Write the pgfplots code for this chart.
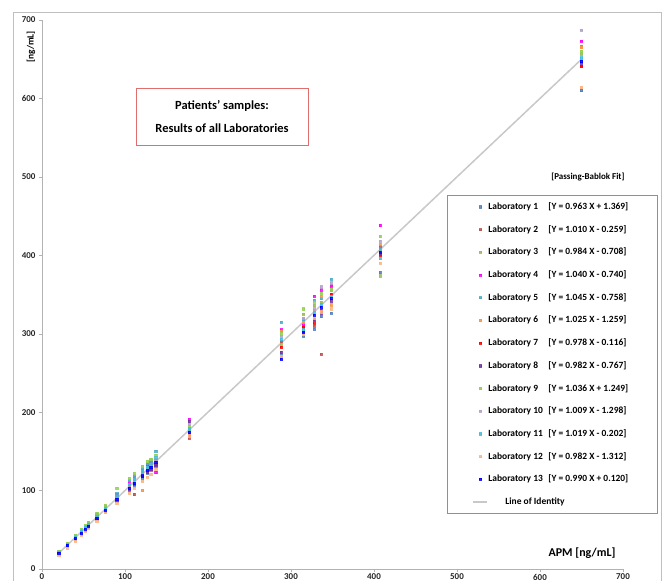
\documentclass[border=0pt]{standalone}
\usepackage{pgfplots}
\pgfplotsset{compat=1.18}
\usepackage{pgfplotstable}
\usepackage{fontspec}
\setmainfont{Carlito}

\definecolor{c1}{RGB}{79,129,189}
\definecolor{c2}{RGB}{192,80,77}
\definecolor{c3}{RGB}{155,187,89}
\definecolor{c4}{RGB}{255,0,255}
\definecolor{c5}{RGB}{75,172,198}
\definecolor{c6}{RGB}{247,150,70}
\definecolor{c7}{RGB}{255,0,0}
\definecolor{c8}{RGB}{112,48,160}
\definecolor{c9}{RGB}{146,208,80}
\definecolor{c10}{RGB}{178,161,199}
\definecolor{c11}{RGB}{60,190,220}
\definecolor{c12}{RGB}{250,180,130}
\definecolor{c13}{RGB}{0,0,255}
\definecolor{boxred}{RGB}{225,110,110}
\definecolor{idline}{RGB}{200,200,200}

\pgfplotstableread{
x   L1  L2  L3  L4  L5  L6  L7  L8  L9  L10 L11 L12 L13
20  21  20  19  21  22  20  20  19  22  19  21  18  20
30  31  30  29  32  32  30  30  29  33  29  31  27  30
40  40  41  39  42  43  40  39  38  43  40  41  36  39
47  46  47  46  49  50  48  46  45  51  47  48  43  46
52  50  52  51  55  54  53  51  50  56  52  53  48  51
56  54  56  55  60  59  57  55  54  59  56  57  52  55
66  64  66  65  69  70  67  65  64  71  66  67  61  65
76  74  76  75  79  80  77  75  74  81  76  77  72  75
90  87  91  88  95  96  92  89  88  103 90  93  84  89
105 100 106 103 110 113 108 104 102 116 105 108 97  103
111 106 95  108 117 119 114 109 108 122 111 114 103 109
121 116 122 118 126 128 100 119 118 131 121 124 112 119
127 122 128 124 133 135 130 125 123 137 127 130 117 126
131 126 132 128 136 138 134 128 127 140 131 133 121 130
137 131 138 134 123 150 140 134 133 145 137 142 127 136
177 172 167 175 191 177 178 171 188 182 185 179 170 174
288 272 290 287 305 315 303 283 276 300 297 293 271 268
315 297 310 325 312 318 315 308 300 332 320 305 299 302
328 306 310 336 348 343 330 314 318 340 332 327 320 324
336 322 274 340 356 345 348 330 326 352 360 338 328 334
348 326 360 355 362 370 337 350 342 357 365 348 332 345
407 378 412 374 438 408 414 400 402 424 418 396 390 404
650 610 641 657 673 667 665 641 645 660 687 652 614 647
}\labdata

\pgfplotstableread{
x   y
20  20
650 650
}\identity

\newcommand\lab[2]{\makebox[169bp][l]{\makebox[60bp][l]{Laboratory #1}[Y = #2]}}

\pgfplotsset{
  labmark/.style={only marks, mark=square*, mark size=1.1bp, mark options={opacity=0.85},
    legend image code/.code={\path[draw=none,fill=none] (0bp,-1bp) rectangle (41bp,1bp); \draw[##1] plot coordinates {(33bp,0bp)};}},
  idlegend/.style={legend image code/.code={\path[draw=none,fill=none] (0bp,-1bp) rectangle (41bp,1bp); \draw[##1] (26bp,0bp) -- (40bp,0bp);}},
}

\begin{document}
\begin{tikzpicture}
\begin{axis}[
  at={(0bp,0bp)}, anchor=south west,
  scale only axis, width=581bp, height=549bp,
  xmin=0, xmax=700, ymin=0, ymax=700,
  axis x line=bottom, axis y line=left,
  axis line style={draw=black!30, -},
  xtick={0,100,...,700}, ytick={0,100,...,700},
  tick align=outside, major tick length=3bp,
  tick style={draw=black!30},
  tick label style={font=\bfseries\fontsize{9}{10}\selectfont, text=black!85},
  xticklabel style={yshift=1.5bp},
  /pgf/number format/assume math mode=true,
  clip=false,
  legend cell align=left,
  legend style={at={(0.6971,0.6812)}, anchor=north west, draw=boxred, line width=0.8bp,
    fill=white, inner xsep=0pt, inner ysep=7bp, row sep=13.7bp,
    nodes={inner sep=0pt, text height=7bp, text depth=2bp},
    font=\bfseries\fontsize{9.5}{11}\selectfont},
]
\addplot[idline, line width=1.5bp, forget plot] table[x=x, y=y] {\identity};
\addplot[labmark, color=c1] table[x=x, y=L1] {\labdata};
\addlegendentry{\lab{1}{0.963 X + 1.369}}
\addplot[labmark, color=c2] table[x=x, y=L2] {\labdata};
\addlegendentry{\lab{2}{1.010 X - 0.259}}
\addplot[labmark, color=c3] table[x=x, y=L3] {\labdata};
\addlegendentry{\lab{3}{0.984 X - 0.708}}
\addplot[labmark, color=c4] table[x=x, y=L4] {\labdata};
\addlegendentry{\lab{4}{1.040 X - 0.740}}
\addplot[labmark, color=c5] table[x=x, y=L5] {\labdata};
\addlegendentry{\lab{5}{1.045 X - 0.758}}
\addplot[labmark, color=c6] table[x=x, y=L6] {\labdata};
\addlegendentry{\lab{6}{1.025 X - 1.259}}
\addplot[labmark, color=c7] table[x=x, y=L7] {\labdata};
\addlegendentry{\lab{7}{0.978 X - 0.116}}
\addplot[labmark, color=c8] table[x=x, y=L8] {\labdata};
\addlegendentry{\lab{8}{0.982 X - 0.767}}
\addplot[labmark, color=c9] table[x=x, y=L9] {\labdata};
\addlegendentry{\lab{9}{1.036 X + 1.249}}
\addplot[labmark, color=c10] table[x=x, y=L10] {\labdata};
\addlegendentry{\lab{10}{1.009 X - 1.298}}
\addplot[labmark, color=c11] table[x=x, y=L11] {\labdata};
\addlegendentry{\lab{11}{1.019 X - 0.202}}
\addplot[labmark, color=c12] table[x=x, y=L12] {\labdata};
\addlegendentry{\lab{12}{0.982 X - 1.312}}
\addplot[labmark, color=c13] table[x=x, y=L13] {\labdata};
\addlegendentry{\lab{13}{0.990 X + 0.120}}
\addlegendimage{idline, line width=1.5bp, idlegend}
\addlegendentry{\makebox[169bp][l]{\hspace{17bp}Line of Identity}}
\end{axis}
\draw[black!25, line width=0.8bp] (-29bp,-40bp) rectangle (619bp,557bp);
\node[draw=boxred, line width=0.8bp, minimum width=172bp, minimum height=57bp, align=center,
  font=\bfseries\fontsize{12.5}{23}\selectfont] at (180bp,452.5bp) {Patients’ samples:\\Results of all Laboratories};
\node[rotate=90, font=\bfseries\fontsize{9.5}{11}\selectfont] at (-11bp,522bp) {[ng/mL]};
\node[anchor=east, font=\bfseries\fontsize{12}{14}\selectfont] at (577bp,16bp) {APM [ng/mL]};
\node[anchor=east, font=\bfseries\fontsize{9}{10}\selectfont] at (586bp,392bp) {[Passing-Bablok Fit]};
\pgfresetboundingbox
\path[use as bounding box] (-42bp,-12bp) rectangle (620bp,569bp);
\end{tikzpicture}
\end{document}
